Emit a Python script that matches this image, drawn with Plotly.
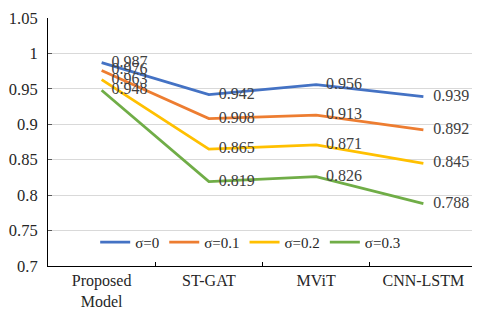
import plotly.graph_objects as go

categories = ["Proposed<br>Model", "ST-GAT", "MViT", "CNN-LSTM"]
series_names = ["σ=0", "σ=0.1", "σ=0.2", "σ=0.3"]
sigma0 = [0.987, 0.942, 0.956, 0.939]
sigma1 = [0.976, 0.908, 0.913, 0.892]
sigma2 = [0.963, 0.865, 0.871, 0.845]
sigma3 = [0.948, 0.819, 0.826, 0.788]
y_ticks = [0.7, 0.75, 0.8, 0.85, 0.9, 0.95, 1.0, 1.05]
y_tick_labels = ["0.7", "0.75", "0.8", "0.85", "0.9", "0.95", "1", "1.05"]

colors = ["#4472C4", "#ED7D31", "#FFC000", "#70AD47"]
font_family = "Liberation Serif, Times New Roman, serif"

fig = go.Figure()
for name, vals, col in zip(series_names, [sigma0, sigma1, sigma2, sigma3], colors):
    fig.add_trace(go.Scatter(
        x=categories, y=vals, name=name,
        mode="lines+markers+text",
        line=dict(color=col, width=2.8),
        marker=dict(size=14, color="rgba(0,0,0,0)"),
        text=[f"{v:.3f}" for v in vals],
        textposition="middle right",
        cliponaxis=False,
        textfont=dict(family=font_family, size=16, color="#404040"),
    ))

# page body has an 8px margin, so the figure is sized/margined to compensate
fig.update_layout(
    width=472, height=305,
    margin=dict(l=38, r=3, t=1, b=47),
    plot_bgcolor="white", paper_bgcolor="white",
    font=dict(family=font_family, size=15, color="#262626"),
    showlegend=True,
    legend=dict(orientation="h", x=0.11, y=0.095, xanchor="left", yanchor="middle",
                bgcolor="rgba(0,0,0,0)", font=dict(size=15, color="#262626"),
                itemwidth=30, tracegroupgap=0),
    xaxis=dict(
        type="category", range=[-0.5, 3.5],
        showline=True, linecolor="black", linewidth=1,
        ticks="inside", tickson="boundaries", ticklen=4, tickcolor="black",
        showgrid=False, tickfont=dict(size=16), ticklabeloverflow="allow",
    ),
    yaxis=dict(
        range=[0.7, 1.05], tickvals=y_ticks, ticktext=y_tick_labels,
        showline=True, linecolor="black", linewidth=1,
        showgrid=True, gridcolor="#D9D9D9", gridwidth=1,
        zeroline=False, tickfont=dict(size=16.5),
        ticks="inside", ticklen=4, tickcolor="#595959",
        ticklabelstandoff=6, ticklabeloverflow="allow",
    ),
)

fig.write_html("out.html")
